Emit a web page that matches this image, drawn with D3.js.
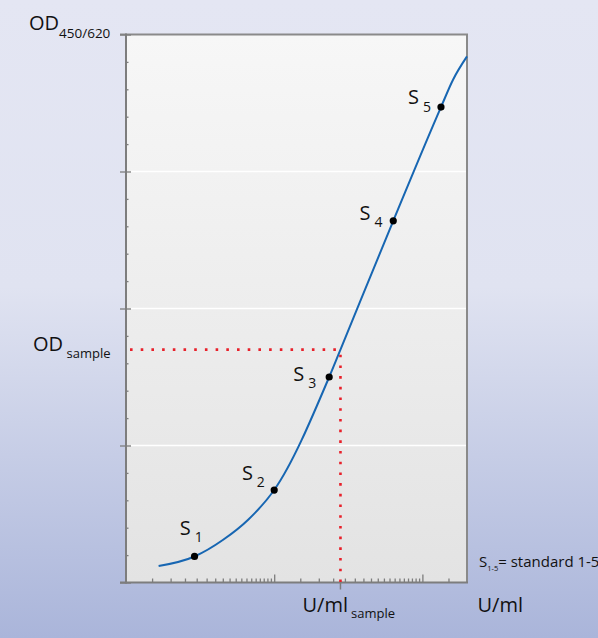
<!DOCTYPE html>
<html>
<head>
<meta charset="utf-8">
<script src="https://cdn.jsdelivr.net/npm/d3@7"></script>
<style>
  html, body { margin: 0; padding: 0; }
  body { width: 598px; height: 638px; overflow: hidden; }
  svg { display: block; font-family: "Open Sans", sans-serif; }
</style>
</head>
<body>
<div id="chart"></div>
<script>
// standards S1..S5 (U/ml, OD)
var standardNames = ["1", "2", "3", "4", "5"];
var standardConc = [2.9, 10, 23.5, 63.6, 133.5];
var standardOD = [0.19, 0.675, 1.5, 2.64, 3.47];

// standard curve, points
var curveConc = [1.66, 2.9, 4.5, 6.7, 10, 23.5, 28, 63.6, 133.5, 161, 200];
var curveOD = [0.12, 0.19, 0.31, 0.46, 0.675, 1.5, 1.7, 2.64, 3.47, 3.67, 3.84];

// sample read-off
var sampleConc = 28;
var sampleOD = 1.7;

// axes (no tick labels in the picture)
var xDomain = [1, 200];
var xDecades = [1, 10, 100];
var xMinorSteps = [1.5, 2, 2.5, 3, 3.5, 4, 4.5, 5, 5.5, 6, 6.5, 7, 7.5, 8, 8.5, 9, 9.5];
var xMajorTicks = [10, 100];
var yDomain = [0, 4];
var yMajorTicks = [0, 1, 2, 3, 4];
var yGridTicks = [1, 2, 3];
var yMinorTicks = [0.2, 0.4, 0.6, 0.8, 1.2, 1.4, 1.6, 1.8, 2.2, 2.4, 2.6, 2.8, 3.2, 3.4, 3.6, 3.8];

var W = 598, H = 638;
var plotLeft = 126, plotRight = 467, plotTop = 34.5, plotBottom = 582.5;
var axisColour = "#7d7d7d";

var svg = d3.select("#chart").append("svg")
	.attr("width", W)
	.attr("height", H);

// gradients
var defs = svg.append("defs");
var bg = defs.append("linearGradient").attr("id", "bg")
	.attr("x1", 0).attr("y1", 0).attr("x2", 0).attr("y2", 1);
bg.append("stop").attr("offset", "0%").attr("stop-color", "#e4e6f3");
bg.append("stop").attr("offset", "45%").attr("stop-color", "#e0e3f1");
bg.append("stop").attr("offset", "100%").attr("stop-color", "#aab5da");

var plotBg = defs.append("linearGradient").attr("id", "plotBg")
	.attr("x1", 0).attr("y1", 0).attr("x2", 0).attr("y2", 1);
plotBg.append("stop").attr("offset", "0%").attr("stop-color", "#f7f7f7");
plotBg.append("stop").attr("offset", "100%").attr("stop-color", "#e3e3e3");

svg.append("rect")
	.attr("width", W)
	.attr("height", H)
	.attr("fill", "url(#bg)");

var xScale = d3.scaleLog().domain(xDomain).range([plotLeft, plotRight]);
var yScale = d3.scaleLinear().domain(yDomain).range([plotBottom, plotTop]);

svg.append("rect")
	.attr("x", plotLeft)
	.attr("y", plotTop)
	.attr("width", plotRight - plotLeft)
	.attr("height", plotBottom - plotTop)
	.attr("fill", "url(#plotBg)");

// white gridlines
svg.selectAll(".grid")
	.data(yGridTicks)
	.enter()
	.append("line")
	.attr("class", "grid")
	.attr("x1", plotLeft + 5)
	.attr("x2", plotRight)
	.attr("y1", function(d) { return yScale(d); })
	.attr("y2", function(d) { return yScale(d); })
	.attr("stroke", "#ffffff")
	.attr("stroke-width", 1.5);

// frame: top and right
svg.append("line")
	.attr("x1", plotLeft - 6).attr("x2", plotRight + 1)
	.attr("y1", plotTop).attr("y2", plotTop)
	.attr("stroke", "#8a8a8a").attr("stroke-width", 2);
svg.append("line")
	.attr("x1", plotRight).attr("x2", plotRight)
	.attr("y1", plotTop).attr("y2", plotBottom)
	.attr("stroke", "#8a8a8a").attr("stroke-width", 2);

// x minor ticks
var xMinor = [];
xDecades.forEach(function(dec) {
	xMinorSteps.forEach(function(s) {
		if (dec * s < xDomain[1]) xMinor.push(dec * s);
	});
});

function styleAxis(g) {
	g.select(".domain").remove();
	g.selectAll(".tick line").attr("stroke", axisColour).attr("stroke-width", 1.3);
	g.selectAll(".tick text").remove();
}

svg.append("g")
	.attr("transform", "translate(0," + plotBottom + ")")
	.call(d3.axisBottom(xScale).tickValues(xMinor).tickSizeInner(-4).tickSizeOuter(0).tickFormat(""))
	.call(styleAxis);

svg.append("g")
	.attr("transform", "translate(0," + plotBottom + ")")
	.call(d3.axisBottom(xScale).tickValues(xMajorTicks).tickSizeInner(-8).tickSizeOuter(0).tickFormat(""))
	.call(styleAxis);

// y ticks
svg.append("g")
	.attr("transform", "translate(" + plotLeft + ",0)")
	.call(d3.axisLeft(yScale).tickValues(yMinorTicks).tickSizeInner(-2.5).tickSizeOuter(0).tickFormat(""))
	.call(styleAxis);

svg.append("g")
	.attr("transform", "translate(" + plotLeft + ",0)")
	.call(d3.axisLeft(yScale).tickValues(yMajorTicks).tickSizeInner(6).tickSizeOuter(0).tickFormat(""))
	.call(styleAxis);

svg.append("g")
	.attr("transform", "translate(" + plotLeft + ",0)")
	.call(d3.axisLeft(yScale).tickValues(yMajorTicks).tickSizeInner(-5).tickSizeOuter(0).tickFormat(""))
	.call(styleAxis);

// sample tick below the x axis
svg.append("line")
	.attr("x1", xScale(sampleConc)).attr("x2", xScale(sampleConc))
	.attr("y1", plotBottom).attr("y2", plotBottom + 7)
	.attr("stroke", axisColour).attr("stroke-width", 1.5);

// axis lines
svg.append("line")
	.attr("x1", plotLeft).attr("x2", plotLeft)
	.attr("y1", plotTop - 1).attr("y2", plotBottom + 1)
	.attr("stroke", axisColour).attr("stroke-width", 2);
svg.append("line")
	.attr("x1", plotLeft - 6).attr("x2", plotRight + 1)
	.attr("y1", plotBottom).attr("y2", plotBottom)
	.attr("stroke", axisColour).attr("stroke-width", 2);

// red dotted read-off lines
svg.append("line")
	.attr("x1", plotLeft + 4).attr("x2", xScale(sampleConc) - 4)
	.attr("y1", yScale(sampleOD)).attr("y2", yScale(sampleOD))
	.attr("stroke", "#e8202a").attr("stroke-width", 2.6)
	.attr("stroke-dasharray", "2.6 8.1");
svg.append("line")
	.attr("x1", xScale(sampleConc)).attr("x2", xScale(sampleConc))
	.attr("y1", plotBottom - 0.5).attr("y2", yScale(sampleOD) + 5)
	.attr("stroke", "#e8202a").attr("stroke-width", 2.6)
	.attr("stroke-dasharray", "2.6 8.1");

// curve
var curveData = curveConc.map(function(c, i) { return [c, curveOD[i]]; });
var line = d3.line()
	.x(function(d) { return xScale(d[0]); })
	.y(function(d) { return yScale(d[1]); })
	.curve(d3.curveMonotoneX);

svg.append("path")
	.datum(curveData)
	.attr("d", line)
	.attr("fill", "none")
	.attr("stroke", "#1766b2")
	.attr("stroke-width", 2);

// standards
var standards = standardConc.map(function(c, i) {
	return { name: standardNames[i], conc: c, od: standardOD[i] };
});

svg.selectAll(".std")
	.data(standards)
	.enter()
	.append("circle")
	.attr("class", "std")
	.attr("cx", function(d) { return xScale(d.conc); })
	.attr("cy", function(d) { return yScale(d.od); })
	.attr("r", 3.6)
	.attr("fill", "#000");

// label placement for S1..S5 (left of / above the dot)
var labelOffsets = [[-14.7, -21.7], [-32.3, -10], [-36, 3.6], [-33.7, -1.3], [-33, -3]];

var labels = svg.selectAll(".stdLabel")
	.data(standards)
	.enter()
	.append("text")
	.attr("class", "stdLabel")
	.attr("x", function(d, i) { return xScale(d.conc) + labelOffsets[i][0]; })
	.attr("y", function(d, i) { return yScale(d.od) + labelOffsets[i][1]; })
	.attr("font-size", "20px")
	.attr("fill", "#111");
labels.append("tspan").text("S");
labels.append("tspan")
	.attr("dx", 4)
	.attr("dy", 7.4)
	.attr("font-size", "14px")
	.text(function(d) { return d.name; });

// axis titles
var yTitle = svg.append("text")
	.attr("x", 29).attr("y", 30)
	.attr("font-size", "20px").attr("fill", "#111");
yTitle.append("tspan").text("OD");
yTitle.append("tspan").attr("dy", 7.5).attr("font-size", "13.5px").text("450/620");

var odSample = svg.append("text")
	.attr("x", 33).attr("y", 350.7)
	.attr("font-size", "20px").attr("fill", "#111");
odSample.append("tspan").text("OD");
odSample.append("tspan").attr("dx", 3.5).attr("dy", 7.5).attr("font-size", "13px").text("sample");

var uSample = svg.append("text")
	.attr("x", 302.5).attr("y", 611.7)
	.attr("font-size", "20px").attr("fill", "#111");
uSample.append("tspan").text("U/ml");
uSample.append("tspan").attr("dx", 3).attr("dy", 6.6).attr("font-size", "13px").text("sample");

svg.append("text")
	.attr("x", 477.5).attr("y", 611.7)
	.attr("font-size", "20px").attr("fill", "#111")
	.text("U/ml");

// legend note
var note = svg.append("text")
	.attr("x", 479).attr("y", 566.7)
	.attr("font-size", "15px").attr("fill", "#111");
note.append("tspan").text("S");
note.append("tspan").attr("dy", 4.3).attr("font-size", "7.5px").text("1-5");
note.append("tspan").attr("dy", -4.3).text("= standard 1-5");
</script>
</body>
</html>
